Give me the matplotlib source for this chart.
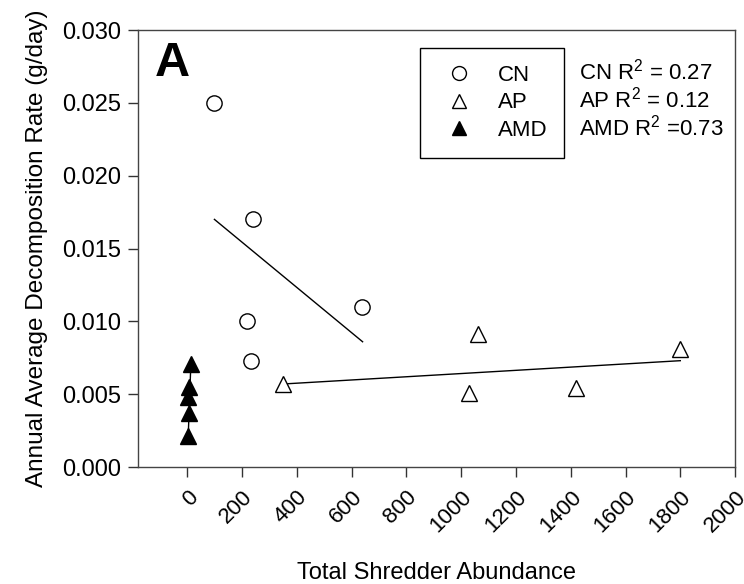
import numpy as np
import matplotlib.pyplot as plt
from matplotlib.lines import Line2D

plt.rcParams['font.family'] = ['Liberation Sans', 'DejaVu Sans']
plt.rcParams['mathtext.fontset'] = 'custom'
plt.rcParams['mathtext.rm'] = 'Liberation Sans'

# shredder abundance vs. decomposition rate, per stream type
cn_x = [98, 240, 219, 233, 638]
cn_y = [0.0250, 0.0170, 0.0100, 0.0073, 0.0110]
ap_x = [350, 1030, 1060, 1420, 1800]
ap_y = [0.0057, 0.0051, 0.0091, 0.0054, 0.0081]
amd_x = [13, 6, 4, 5, 4]
amd_y = [0.0071, 0.0055, 0.0048, 0.0037, 0.0021]

# fitted regression segments (endpoints)
cn_fit_x = [99, 640]
cn_fit_y = [0.0170, 0.0086]
ap_fit_x = [350, 1800]
ap_fit_y = [0.0057, 0.0073]
amd_fit_x = [4, 12]
amd_fit_y = [0.0025, 0.0066]

r2_text = ['CN R$^2$ = 0.27', 'AP R$^2$ = 0.12', 'AMD R$^2$ =0.73']
xticks = np.arange(0, 2001, 200)
yticks = [0.000, 0.005, 0.010, 0.015, 0.020, 0.025, 0.030]

fig = plt.figure(figsize=(7.44, 5.84), dpi=100)
ax = fig.add_axes([0.1855, 0.2003, 0.8025, 0.7483])

ax.plot(cn_fit_x, cn_fit_y, color='black', lw=1)
ax.plot(ap_fit_x, ap_fit_y, color='black', lw=1)
ax.plot(amd_fit_x, amd_fit_y, color='black', lw=1)

ax.plot(cn_x, cn_y, 'o', ms=11, mfc='white', mec='black', mew=1, ls='none')
ax.plot(ap_x, ap_y, '^', ms=11, mfc='white', mec='black', mew=1, ls='none')
ax.plot(amd_x, amd_y, '^', ms=11, mfc='black', mec='black', mew=1, ls='none')

ax.set_xlim(-180, 2000)
ax.set_ylim(0, 0.030)
ax.set_xticks(xticks)
ax.set_xticklabels([str(t) for t in xticks], rotation=45, ha='right',
                   rotation_mode='anchor', fontsize=16)
ax.set_yticks(yticks)
ax.set_yticklabels(['%.3f' % t for t in yticks], fontsize=17)
ax.tick_params(direction='out', length=7, width=1, color='#333333')
ax.tick_params(axis='x', pad=7)
ax.tick_params(axis='y', pad=5)
for s in ax.spines.values():
    s.set_color('#444444')
    s.set_linewidth(1)

ax.set_xlabel('Total Shredder Abundance', fontsize=17)
ax.xaxis.set_label_coords(0.5, -0.217)
ax.set_ylabel('Annual Average Decomposition Rate (g/day)', fontsize=17.5,
              labelpad=10)

ax.text(0.028, 0.975, 'A', transform=ax.transAxes, fontsize=35,
        fontweight='bold', va='top', ha='left')

handles = [
    Line2D([], [], marker='o', ls='none', ms=10, mfc='white', mec='black'),
    Line2D([], [], marker='^', ls='none', ms=10, mfc='white', mec='black'),
    Line2D([], [], marker='^', ls='none', ms=10, mfc='black', mec='black'),
]
leg = ax.legend(handles, ['CN', 'AP', 'AMD'], loc='upper left',
                bbox_to_anchor=(0.472, 0.958), fontsize=16, frameon=True,
                fancybox=False, edgecolor='black', framealpha=1,
                handletextpad=0.75, borderpad=0.75, labelspacing=0.29,
                handlelength=2.0, borderaxespad=0)
leg.get_frame().set_linewidth(1)

ax.text(0.739, 0.935, '\n'.join(r2_text), transform=ax.transAxes,
        fontsize=16, va='top', ha='left', linespacing=1.1)

fig.savefig('out.png', dpi=100)
